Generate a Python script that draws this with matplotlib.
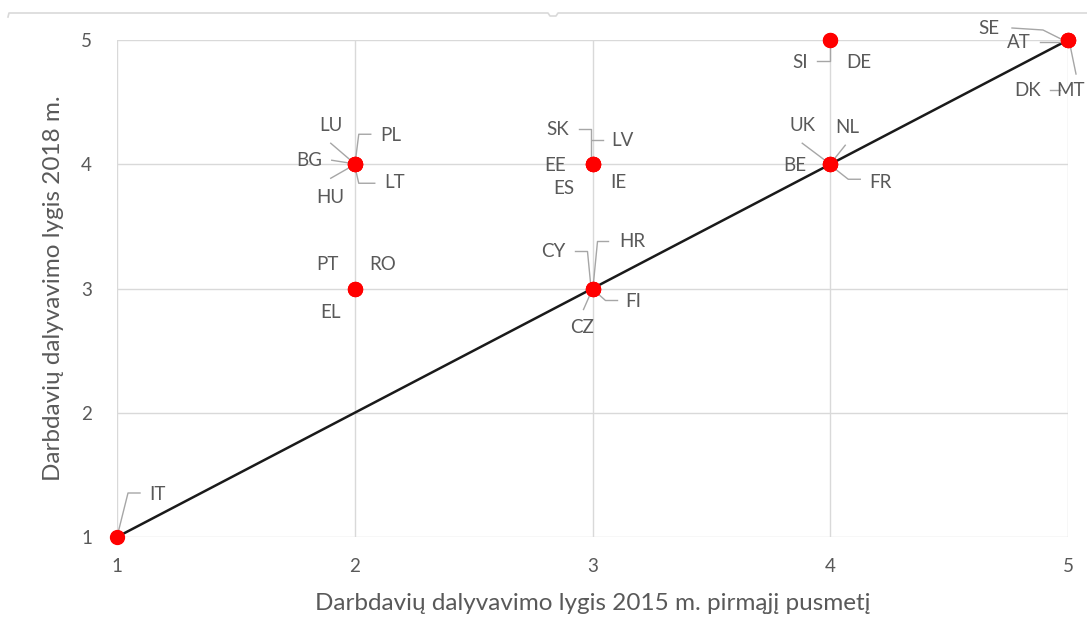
import matplotlib.pyplot as plt
import matplotlib.transforms as mtransforms
from matplotlib.lines import Line2D

# data: employer participation level, 2015 H1 vs 2018
countries = ["IT", "BG", "HU", "LU", "PL", "LT", "PT", "RO", "EL",
             "SK", "LV", "EE", "ES", "IE", "CY", "HR", "FI", "CZ",
             "UK", "NL", "BE", "FR", "SI", "DE", "SE", "AT", "DK", "MT"]
level_2015 = [1, 2, 2, 2, 2, 2, 2, 2, 2,
              3, 3, 3, 3, 3, 3, 3, 3, 3,
              4, 4, 4, 4, 4, 4, 5, 5, 5, 5]
level_2018 = [1, 4, 4, 4, 4, 4, 3, 3, 3,
              4, 4, 4, 4, 4, 3, 3, 3, 3,
              4, 4, 4, 4, 5, 5, 5, 5, 5, 5]
ticks = [1, 2, 3, 4, 5]

# label placement, pixel offsets from the point (y up)
label_off = {
    "IT": (40, 42), "LU": (-24, 39), "BG": (-45, 4), "HU": (-25, -33),
    "PL": (36, 29), "LT": (40, -18), "PT": (-27, 24), "RO": (28, 24),
    "EL": (-24, -24), "SK": (-35, 35), "LV": (30, 24), "EE": (-37, -1),
    "ES": (-29, -24), "IE": (26, -18), "CY": (-39, 37), "HR": (40, 47),
    "FI": (41, -13), "CZ": (-10, -39), "UK": (-28, 39), "NL": (17, 37),
    "BE": (-35, -1), "FR": (50, -18), "SI": (-30, -22), "DE": (29, -23),
    "SE": (-79, 12), "AT": (-49, -2), "DK": (-40, -50), "MT": (3, -50),
}
leaders = {
    "IT": [(23, 44), (11, 44), (1, 4)],
    "LU": [(-24, 21), (-3, 3)],
    "BG": [(-23, 4), (-4, 1)],
    "HU": [(-24, -14), (-3, -2)],
    "PL": [(16, 30), (4, 30), (1, 6)],
    "LT": [(20, -19), (4, -19), (1, -6)],
    "SK": [(-14, 35), (-2, 35), (-2, 6)],
    "LV": [(10, 24), (-1, 24)],
    "CY": [(-17, 37), (-5, 37), (-2, 6)],
    "HR": [(16, 47), (5, 47), (1, 6)],
    "FI": [(25, -12), (13, -12), (4, -4)],
    "CZ": [(-9, -21), (-2, -5)],
    "UK": [(-28, 21), (-4, 3)],
    "NL": [(15, 19), (3, 4)],
    "FR": [(30, -15), (18, -15), (4, -4)],
    "SI": [(-13, -21), (0, -21), (0, -6)],
    "SE": [(-56, 12), (-25, 10), (-5, 0)],
    "AT": [(-28, -2), (-6, -2)],
    "DK": [(-18, -50), (-8, -50)],
    "MT": [(2, -5), (8, -34)],
}

txt = "#595959"
grid = "#d9d9d9"
fam = ["Lato", "DejaVu Sans"]

fig = plt.figure(figsize=(10.87, 6.37), dpi=100)
ax = fig.add_axes([117 / 1087, 1 - 537 / 637, (1068 - 117) / 1087, (537 - 40) / 637])
ax.set_xlim(1, 5)
ax.set_ylim(1, 5)
ax.set_xticks(ticks)
ax.set_yticks(ticks)
ax.grid(True, color=grid, lw=1)
ax.set_axisbelow(True)
for s in ax.spines.values():
    s.set_visible(False)
ax.tick_params(length=0, labelsize=13.5, labelcolor=txt)
ax.tick_params(axis="x", pad=15)
ax.tick_params(axis="y", pad=18)
for lab in ax.get_xticklabels() + ax.get_yticklabels():
    lab.set_family(fam)

ax.set_xlabel("Darbdavių dalyvavimo lygis 2015 m. pirmąjį pusmetį",
              fontsize=17.5, color=txt, family=fam, labelpad=13)
ax.set_ylabel("Darbdavių dalyvavimo lygis 2018 m.",
              fontsize=17.5, color=txt, family=fam, labelpad=12)

ax.plot([1, 5], [1, 5], color="#1a1a1a", lw=1.8, zorder=2, clip_on=False)

for c, x, y in zip(countries, level_2015, level_2018):
    base = ax.transData.transform((x, y))
    tr = mtransforms.Affine2D().translate(*base)
    if c in leaders:
        pts = leaders[c]
        ax.add_line(Line2D([p[0] for p in pts], [p[1] for p in pts],
                           color="#a6a6a6", lw=1, transform=tr, clip_on=False, zorder=3))
    dx, dy = label_off[c]
    ax.text(dx, dy, c, transform=tr, ha="center", va="center", fontsize=13.5,
            color=txt, family=fam, clip_on=False)

ax.scatter(level_2015, level_2018, s=100, color="red", zorder=4, clip_on=False)

# chart frame remnant at top
fig.add_artist(Line2D([8 / 1087, 9 / 1087, 548 / 1087, 550 / 1087, 556 / 1087, 558 / 1087, 1],
                      [1 - 17 / 637, 1 - 13 / 637, 1 - 13 / 637, 1 - 16 / 637, 1 - 16 / 637,
                       1 - 13 / 637, 1 - 13 / 637],
                      color=grid, lw=1.2))

fig.savefig("out.png", dpi=100)
